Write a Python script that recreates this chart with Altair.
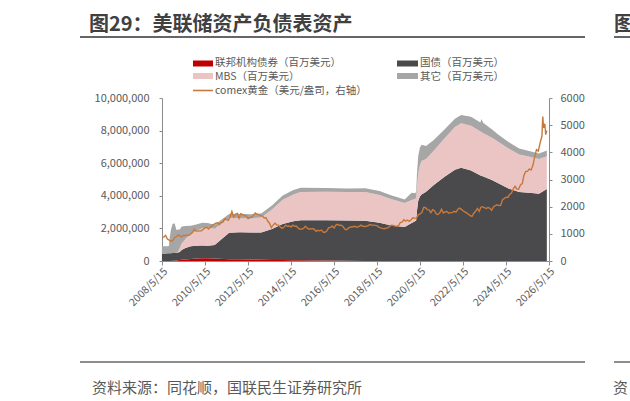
import altair as alt
import pandas as pd

FONT = "Noto Sans CJK SC"

# ---- Fed balance sheet (million USD), key observation dates ----
bs_dates = [
    "2008-05-14", "2008-08-27", "2008-09-10", "2008-09-24", "2008-10-15", "2008-11-12",
    "2008-12-17", "2009-01-14", "2009-02-11", "2009-03-11", "2009-04-15", "2009-06-17",
    "2009-09-16", "2009-12-16", "2010-03-31", "2010-06-30", "2010-10-27", "2011-06-29",
    "2011-12-28", "2012-06-27", "2012-12-26", "2013-06-26", "2013-12-25", "2014-06-25",
    "2014-10-29", "2015-12-30", "2016-12-28", "2017-10-25", "2018-06-27", "2018-12-26",
    "2019-08-28", "2019-12-25", "2020-02-26", "2020-03-11", "2020-03-25", "2020-04-15",
    "2020-05-13", "2020-06-10", "2020-08-26", "2020-12-30", "2021-06-30", "2021-12-29",
    "2022-04-13", "2022-09-28", "2023-03-08", "2023-03-22", "2023-04-26", "2023-09-27",
    "2023-12-27", "2024-06-26", "2024-12-25", "2025-07-30", "2025-11-26", "2026-04-08",
]
agency = [
    0, 0, 0, 0, 0, 10000,
    20000, 30000, 40000, 60000, 70000, 90000,
    130000, 160000, 169000, 165000, 150000, 115000,
    105000, 90000, 77000, 66000, 57000, 42000,
    39000, 33000, 17000, 4000, 2000, 2000,
    2000, 2000, 2000, 2000, 2000, 2000,
    2000, 2000, 2000, 2000, 2000, 2000,
    2000, 2000, 2000, 2000, 2000, 2000,
    2000, 2000, 2000, 2000, 2000, 2000,
]
treasury = [
    450000, 470000, 476000, 476000, 476000, 476000,
    475000, 475000, 475000, 490000, 600000, 700000,
    770000, 776000, 777000, 777000, 830000, 1620000,
    1660000, 1665000, 1666000, 1900000, 2210000, 2400000,
    2460000, 2462000, 2463000, 2465000, 2340000, 2190000,
    2080000, 2330000, 2450000, 2500000, 3100000, 3700000,
    3950000, 4080000, 4250000, 4650000, 5150000, 5600000,
    5720000, 5550000, 5250000, 5230000, 5180000, 4950000,
    4780000, 4450000, 4230000, 4170000, 4130000, 4420000,
]
mbs = [
    0, 0, 0, 0, 0, 0,
    0, 0, 60000, 230000, 400000, 560000,
    790000, 910000, 1070000, 1100000, 1000000, 920000,
    860000, 860000, 930000, 1200000, 1490000, 1640000,
    1740000, 1750000, 1750000, 1770000, 1700000, 1630000,
    1480000, 1410000, 1370000, 1370000, 1500000, 1700000,
    1900000, 2050000, 2000000, 2100000, 2350000, 2620000,
    2730000, 2750000, 2700000, 2680000, 2660000, 2600000,
    2550000, 2450000, 2300000, 2200000, 2120000, 2000000,
]
other = [
    450000, 440000, 460000, 1000000, 1450000, 1800000,
    1800000, 1400000, 1350000, 1150000, 1050000, 800000,
    470000, 400000, 330000, 290000, 250000, 230000,
    280000, 260000, 240000, 240000, 260000, 270000,
    260000, 230000, 220000, 220000, 260000, 230000,
    210000, 440000, 340000, 420000, 800000, 1050000,
    1100000, 1000000, 800000, 650000, 550000, 500000,
    500000, 550000, 550000, 800000, 620000, 500000,
    450000, 400000, 370000, 330000, 340000, 350000,
]

series_names = ["联邦机构债券（百万美元）", "国债（百万美元）", "MBS（百万美元）", "其它（百万美元）"]
series_colors = ["#C00000", "#4A4A4C", "#EBC4C4", "#A6A6A6"]

# ---- COMEX gold (USD/oz), monthly ----
gold_by_year = {
    2008: [890, 880, 940, 810, 770, 730, 760, 860],
    2009: [900, 960, 920, 890, 950, 930, 950, 950, 1000, 1050, 1170, 1100],
    2010: [1100, 1110, 1110, 1170, 1220, 1240, 1180, 1240, 1310, 1350, 1390, 1410],
    2011: [1340, 1410, 1430, 1550, 1530, 1500, 1620, 1820, 1620, 1720, 1750, 1570],
    2012: [1740, 1710, 1660, 1660, 1560, 1600, 1610, 1680, 1770, 1720, 1710, 1660],
    2013: [1660, 1580, 1600, 1470, 1390, 1230, 1320, 1390, 1330, 1320, 1250, 1200],
    2014: [1240, 1320, 1280, 1290, 1250, 1320, 1280, 1290, 1210, 1170, 1180, 1200],
    2015: [1280, 1210, 1180, 1180, 1190, 1170, 1090, 1130, 1110, 1140, 1060, 1060],
    2016: [1110, 1230, 1230, 1290, 1210, 1320, 1350, 1310, 1320, 1270, 1170, 1150],
    2017: [1210, 1250, 1250, 1270, 1270, 1240, 1270, 1320, 1280, 1270, 1280, 1300],
    2018: [1340, 1320, 1320, 1310, 1300, 1250, 1220, 1200, 1190, 1210, 1220, 1280],
    2019: [1320, 1310, 1290, 1280, 1300, 1410, 1430, 1520, 1470, 1510, 1460, 1520],
    2020: [1590, 1580, 1570, 1700, 1730, 1780, 1970, 1970, 1890, 1880, 1780, 1890],
    2021: [1850, 1730, 1710, 1770, 1900, 1770, 1810, 1820, 1760, 1780, 1780, 1830],
    2022: [1800, 1900, 1950, 1910, 1850, 1810, 1770, 1720, 1670, 1640, 1760, 1830],
    2023: [1930, 1830, 1980, 2000, 1960, 1930, 1970, 1940, 1870, 2000, 2040, 2070],
    2024: [2040, 2050, 2250, 2300, 2350, 2340, 2450, 2500, 2660, 2750, 2650, 2640],
    2025: [2800, 2850, 3150, 3300, 3300, 3390, 3350, 3520, 3850, 4100, 4050, 4350],
}
gold_2026_dates = ["2026-01-15", "2026-01-29", "2026-02-12", "2026-03-05", "2026-03-20", "2026-04-08"]
gold_2026 = [4600, 5320, 4900, 5050, 4650, 4800]

x_tick_years = [2008, 2010, 2012, 2014, 2016, 2018, 2020, 2022, 2024, 2026]
left_ticks = [0, 2000000, 4000000, 6000000, 8000000, 10000000]
right_ticks = [0, 1000, 2000, 3000, 4000, 5000, 6000]

# ---- build tables ----
rows = []
for i, d in enumerate(bs_dates):
    for k, vals in enumerate([agency, treasury, mbs, other]):
        rows.append({"date": pd.Timestamp(d), "series": series_names[k], "ord": k, "value": vals[i]})
bs_df = pd.DataFrame(rows)

g_dates, g_vals = [], []
for yr, vals in gold_by_year.items():
    start = 5 if yr == 2008 else 1
    for j, v in enumerate(vals):
        g_dates.append(pd.Timestamp(year=yr, month=start + j, day=15))
        g_vals.append(v)
for d, v in zip(gold_2026_dates, gold_2026):
    g_dates.append(pd.Timestamp(d))
    g_vals.append(v)
gold_df = pd.DataFrame({"date": g_dates, "gold": g_vals})

W, H = 387, 163
AXIS_GRAY = "#8C8C8C"
LABEL = "#595959"

x_enc = alt.X(
    "date:T",
    scale=alt.Scale(domain=[alt.DateTime(year=2008, month=5, date=15),
                            alt.DateTime(year=2026, month=5, date=15)]),
    axis=alt.Axis(values=[alt.DateTime(year=y, month=5, date=15) for y in x_tick_years],
                  format="%Y/%-m/%-d", labelAngle=-45, labelAlign="right", labelBaseline="top",
                  title=None, grid=False, domainColor=AXIS_GRAY, tickColor=AXIS_GRAY, tickSize=4,
                  labelColor=LABEL, labelFontSize=10.5, labelFont=FONT, labelPadding=1,
                  labelOverlap=False, labelFlush=False),
)

areas = alt.Chart(bs_df).mark_area(interpolate="linear").encode(
    x=x_enc,
    y=alt.Y("value:Q", stack="zero",
            scale=alt.Scale(domain=[0, 10000000], nice=False),
            axis=alt.Axis(values=left_ticks, format=",.0f", title=None, grid=False,
                          domainColor=AXIS_GRAY, tickColor=AXIS_GRAY, tickSize=3,
                          labelColor=LABEL, labelFontSize=11, labelFont=FONT, labelPadding=10)),
    color=alt.Color("series:N", scale=alt.Scale(domain=series_names, range=series_colors), legend=None),
    order=alt.Order("ord:Q", sort="ascending"),
)

gold_line = alt.Chart(gold_df).mark_line(color="#C8793A", strokeWidth=1.4).encode(
    x=alt.X("date:T"),
    y=alt.Y("gold:Q", scale=alt.Scale(domain=[0, 6000], nice=False),
            axis=alt.Axis(orient="right", values=right_ticks, format="d", title=None, grid=False,
                          domainColor=AXIS_GRAY, tickColor=AXIS_GRAY, tickSize=3,
                          labelColor=LABEL, labelFontSize=11, labelFont=FONT, labelPadding=8)),
)

one = pd.DataFrame({"k": [0]})


def txt(s, x, y, size, color=LABEL, weight="normal", baseline="middle"):
    return alt.Chart(one).mark_text(text=s, font=FONT, fontSize=size, color=color, fontWeight=weight,
                                    align="left", baseline=baseline).encode(
        x=alt.value(x), y=alt.value(y))


def hrule(x1, x2, y, color, width):
    return alt.Chart(one).mark_rule(color=color, strokeWidth=width).encode(
        x=alt.value(x1), x2=alt.value(x2), y=alt.value(y))


def box(x1, x2, y1, y2, color):
    return alt.Chart(one).mark_rect(color=color).encode(
        x=alt.value(x1), x2=alt.value(x2), y=alt.value(y1), y2=alt.value(y2))


LEG = 10.5
deco = [
    txt("图29：美联储资产负债表资产", -73, -67, 20, "#404040", "bold", "alphabetic"),
    hrule(-82, 423, -61, "#666666", 2),
    txt("图", 452, -67, 20, "#404040", "bold", "alphabetic"),
    hrule(452, 468, -61, "#666666", 2),
    hrule(-82, 423, 264, "#666666", 1.5),
    hrule(452, 468, 264, "#666666", 1.5),
    txt("资料来源：同花顺，国联民生证券研究所", -70, 290, 15, LABEL),
    txt("资", 451, 290, 15, LABEL),
    # legend
    box(31, 51, -37.5, -31.5, series_colors[0]),
    txt(series_names[0], 53, -35, LEG),
    box(31, 51, -25, -19, series_colors[2]),
    txt(series_names[2], 53, -21.5, LEG),
    hrule(31, 51, -7.5, "#C8793A", 1.6),
    txt("comex黄金（美元/盎司，右轴）", 53, -7.5, LEG),
    box(235, 256, -37.5, -31.5, series_colors[1]),
    txt(series_names[1], 258, -35, LEG),
    box(235, 256, -25, -19, series_colors[3]),
    txt(series_names[3], 258, -21.5, LEG),
]

chart = alt.layer(areas, gold_line, *deco).resolve_scale(y="independent").properties(
    width=W, height=H,
    padding={"left": 162, "top": 98, "right": 630 - 162 - W, "bottom": 401 - 98 - H},
    autosize=alt.AutoSizeParams(type="none"),
    background="white",
).configure_view(stroke=None)

chart.save("out.html", embed_options={"renderer": "svg", "actions": False})
